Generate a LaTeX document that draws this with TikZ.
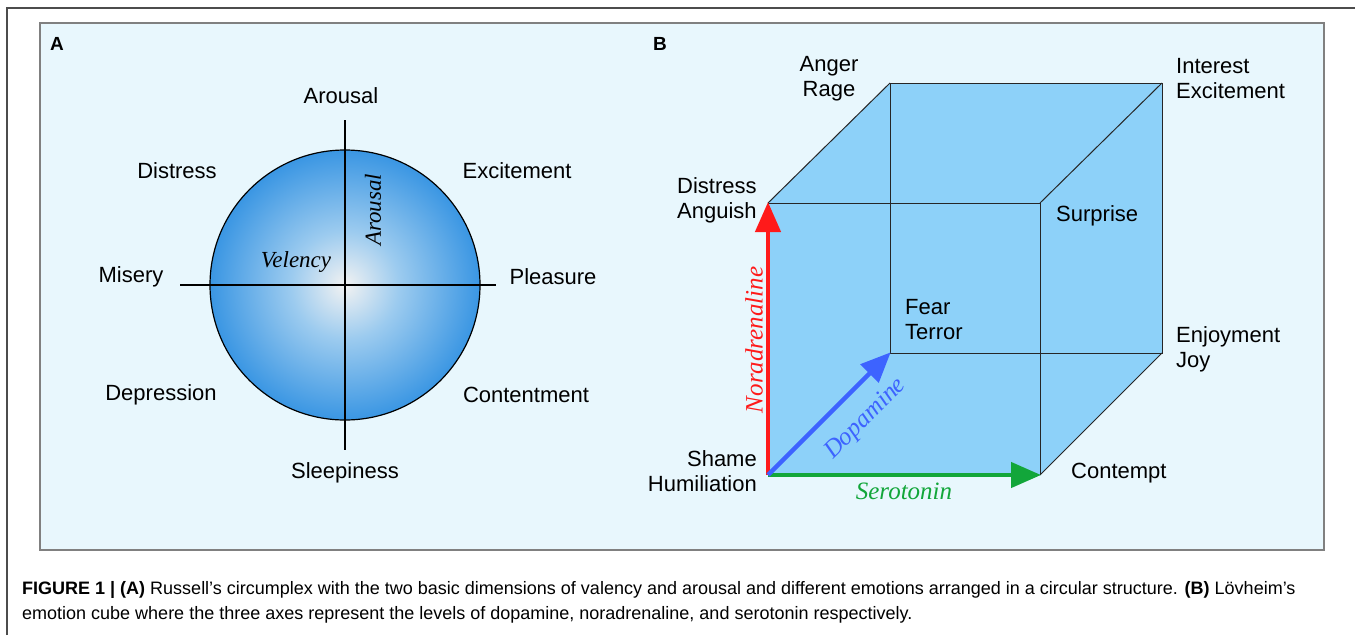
\documentclass[tikz,border=0pt]{standalone}
\usepackage{fontspec}
\setmainfont{Liberation Serif}
\setsansfont{Liberation Sans}
\newfontfamily\capfont{Liberation Sans}
\usetikzlibrary{arrows.meta}
\definecolor{panelbg}{HTML}{E8F7FD}
\definecolor{cubefill}{HTML}{8DD1F9}
\definecolor{circedge}{HTML}{3A96E3}
\definecolor{circmid}{HTML}{9CCBEF}
\definecolor{circcen}{HTML}{F2F2F2}
\definecolor{nored}{HTML}{FF1A1A}
\definecolor{dopblue}{HTML}{3D63FF}
\definecolor{serogreen}{HTML}{12A63A}
\pgfdeclareradialshading{circshade}{\pgfpoint{0bp}{0bp}}{%
  color(0bp)=(circcen); color(10bp)=(circmid); color(25bp)=(circedge); color(50bp)=(circedge)}
\tikzset{
  lab/.style={font=\sffamily\fontsize{22}{25}\selectfont, inner sep=0pt},
  panellab/.style={font=\sffamily\bfseries\fontsize{19}{22}\selectfont, inner sep=0pt},
  axlab/.style={font=\itshape\fontsize{23}{24}\selectfont, inner sep=0pt},
  cubelab/.style={font=\itshape\fontsize{25}{26}\selectfont, inner sep=0pt},
  edge/.style={draw=black!85, line width=1pt},
  axis/.style={draw=black, line width=2pt},
  bigarrow/.style={line width=4.5pt, -{Triangle[length=30pt,width=25pt]}, shorten >=-1pt}
}
\begin{document}
\begin{tikzpicture}[x=1pt,y=-1pt]
\useasboundingbox (0,0) rectangle (1355,635);
\fill[white] (0,0) rectangle (1355,635);
% outer frame
\draw[black!70, line width=1.2pt] (7,635) -- (7,8) -- (1355,8);
% panel
\draw[fill=panelbg, draw=black!50, line width=1.2pt] (40,23) rectangle (1324,550);
\node[panellab] (pA) at (57,44) {A};
\node[panellab] (pB) at (660,44) {B};

% ---- Panel A ----
\coordinate (C) at (345,285);
\shade[shading=circshade] (C) circle[radius=135];
\draw[black, line width=1.2pt] (C) circle[radius=135];
\coordinate (hl) at (180,285);
\coordinate (hr) at (496,285);
\coordinate (vt) at (345,120);
\coordinate (vb) at (345,450);
\draw[axis] (hl) -- (hr);
\draw[axis] (vt) -- (vb);
\node[axlab] (vel) at (296,262) {Velency};
\node[axlab, rotate=90] (aro) at (373,210) {Arousal};

\node[lab] (a1) at (341,96) {Arousal};
\node[lab] (a2) at (177,171) {Distress};
\node[lab] (a3) at (517,171) {Excitement};
\node[lab] (a4) at (131,277) {Misery};
\node[lab] (a5) at (553,277) {Pleasure};
\node[lab] (a6) at (161,395) {Depression};
\node[lab] (a7) at (526,395) {Contentment};
\node[lab] (a8) at (345,473) {Sleepiness};

% ---- Panel B ----
\coordinate (F1) at (768,203);
\coordinate (F2) at (1040,203);
\coordinate (F3) at (1040,475);
\coordinate (F4) at (768,475);
\coordinate (B1) at (890,83);
\coordinate (B2) at (1162,83);
\coordinate (B3) at (1162,353);
\coordinate (B4) at (890,353);
\fill[cubefill] (F4) -- (F1) -- (B1) -- (B2) -- (B3) -- (F3) -- cycle;
\draw[edge] (F1) -- (F2) -- (F3);
\draw[edge] (B1) -- (B2) -- (B3) -- (B4) -- cycle;
\draw[edge] (F1) -- (B1);
\draw[edge] (F2) -- (B2);
\draw[edge] (F3) -- (B3);

\draw[bigarrow, nored] (F4) -- (F1);
\draw[bigarrow, serogreen] (F4) -- (F3);
\draw[bigarrow, dopblue] (F4) -- (B4);

\node[cubelab, nored, rotate=90] (nor) at (754,340) {Noradrenaline};
\node[cubelab, dopblue, rotate=45] (dop) at (866,419) {Dopamine};
\node[cubelab, serogreen] (ser) at (904,491) {Serotonin};

\node[lab, align=center] (e1) at (829,79) {Anger\\Rage};
\node[lab, align=left, anchor=west] (e2) at (1176,79) {Interest\\Excitement};
\node[lab, align=left, anchor=west] (e3) at (677,200) {Distress\\Anguish};
\node[lab, anchor=west] (e4) at (1056,216) {Surprise};
\node[lab, align=left, anchor=west] (e5) at (905,320) {Fear\\Terror};
\node[lab, align=left, anchor=west] (e6) at (1176,349) {Enjoyment\\Joy};
\node[lab, align=right, anchor=east] (e7) at (757,471) {Shame\\Humiliation};
\node[lab, anchor=west] (e8) at (1071,473) {Contempt};

% caption
\node[anchor=north west, align=left, inner sep=0pt, font=\capfont\fontsize{18}{25.5}\selectfont] (cap) at (22,581)
 {\textbf{FIGURE 1 | (A)} Russell’s circumplex with the two basic dimensions of valency and arousal and different emotions arranged in a circular structure. \textbf{(B)} Lövheim’s\\
 emotion cube where the three axes represent the levels of dopamine, noradrenaline, and serotonin respectively.};
\end{tikzpicture}
\end{document}
